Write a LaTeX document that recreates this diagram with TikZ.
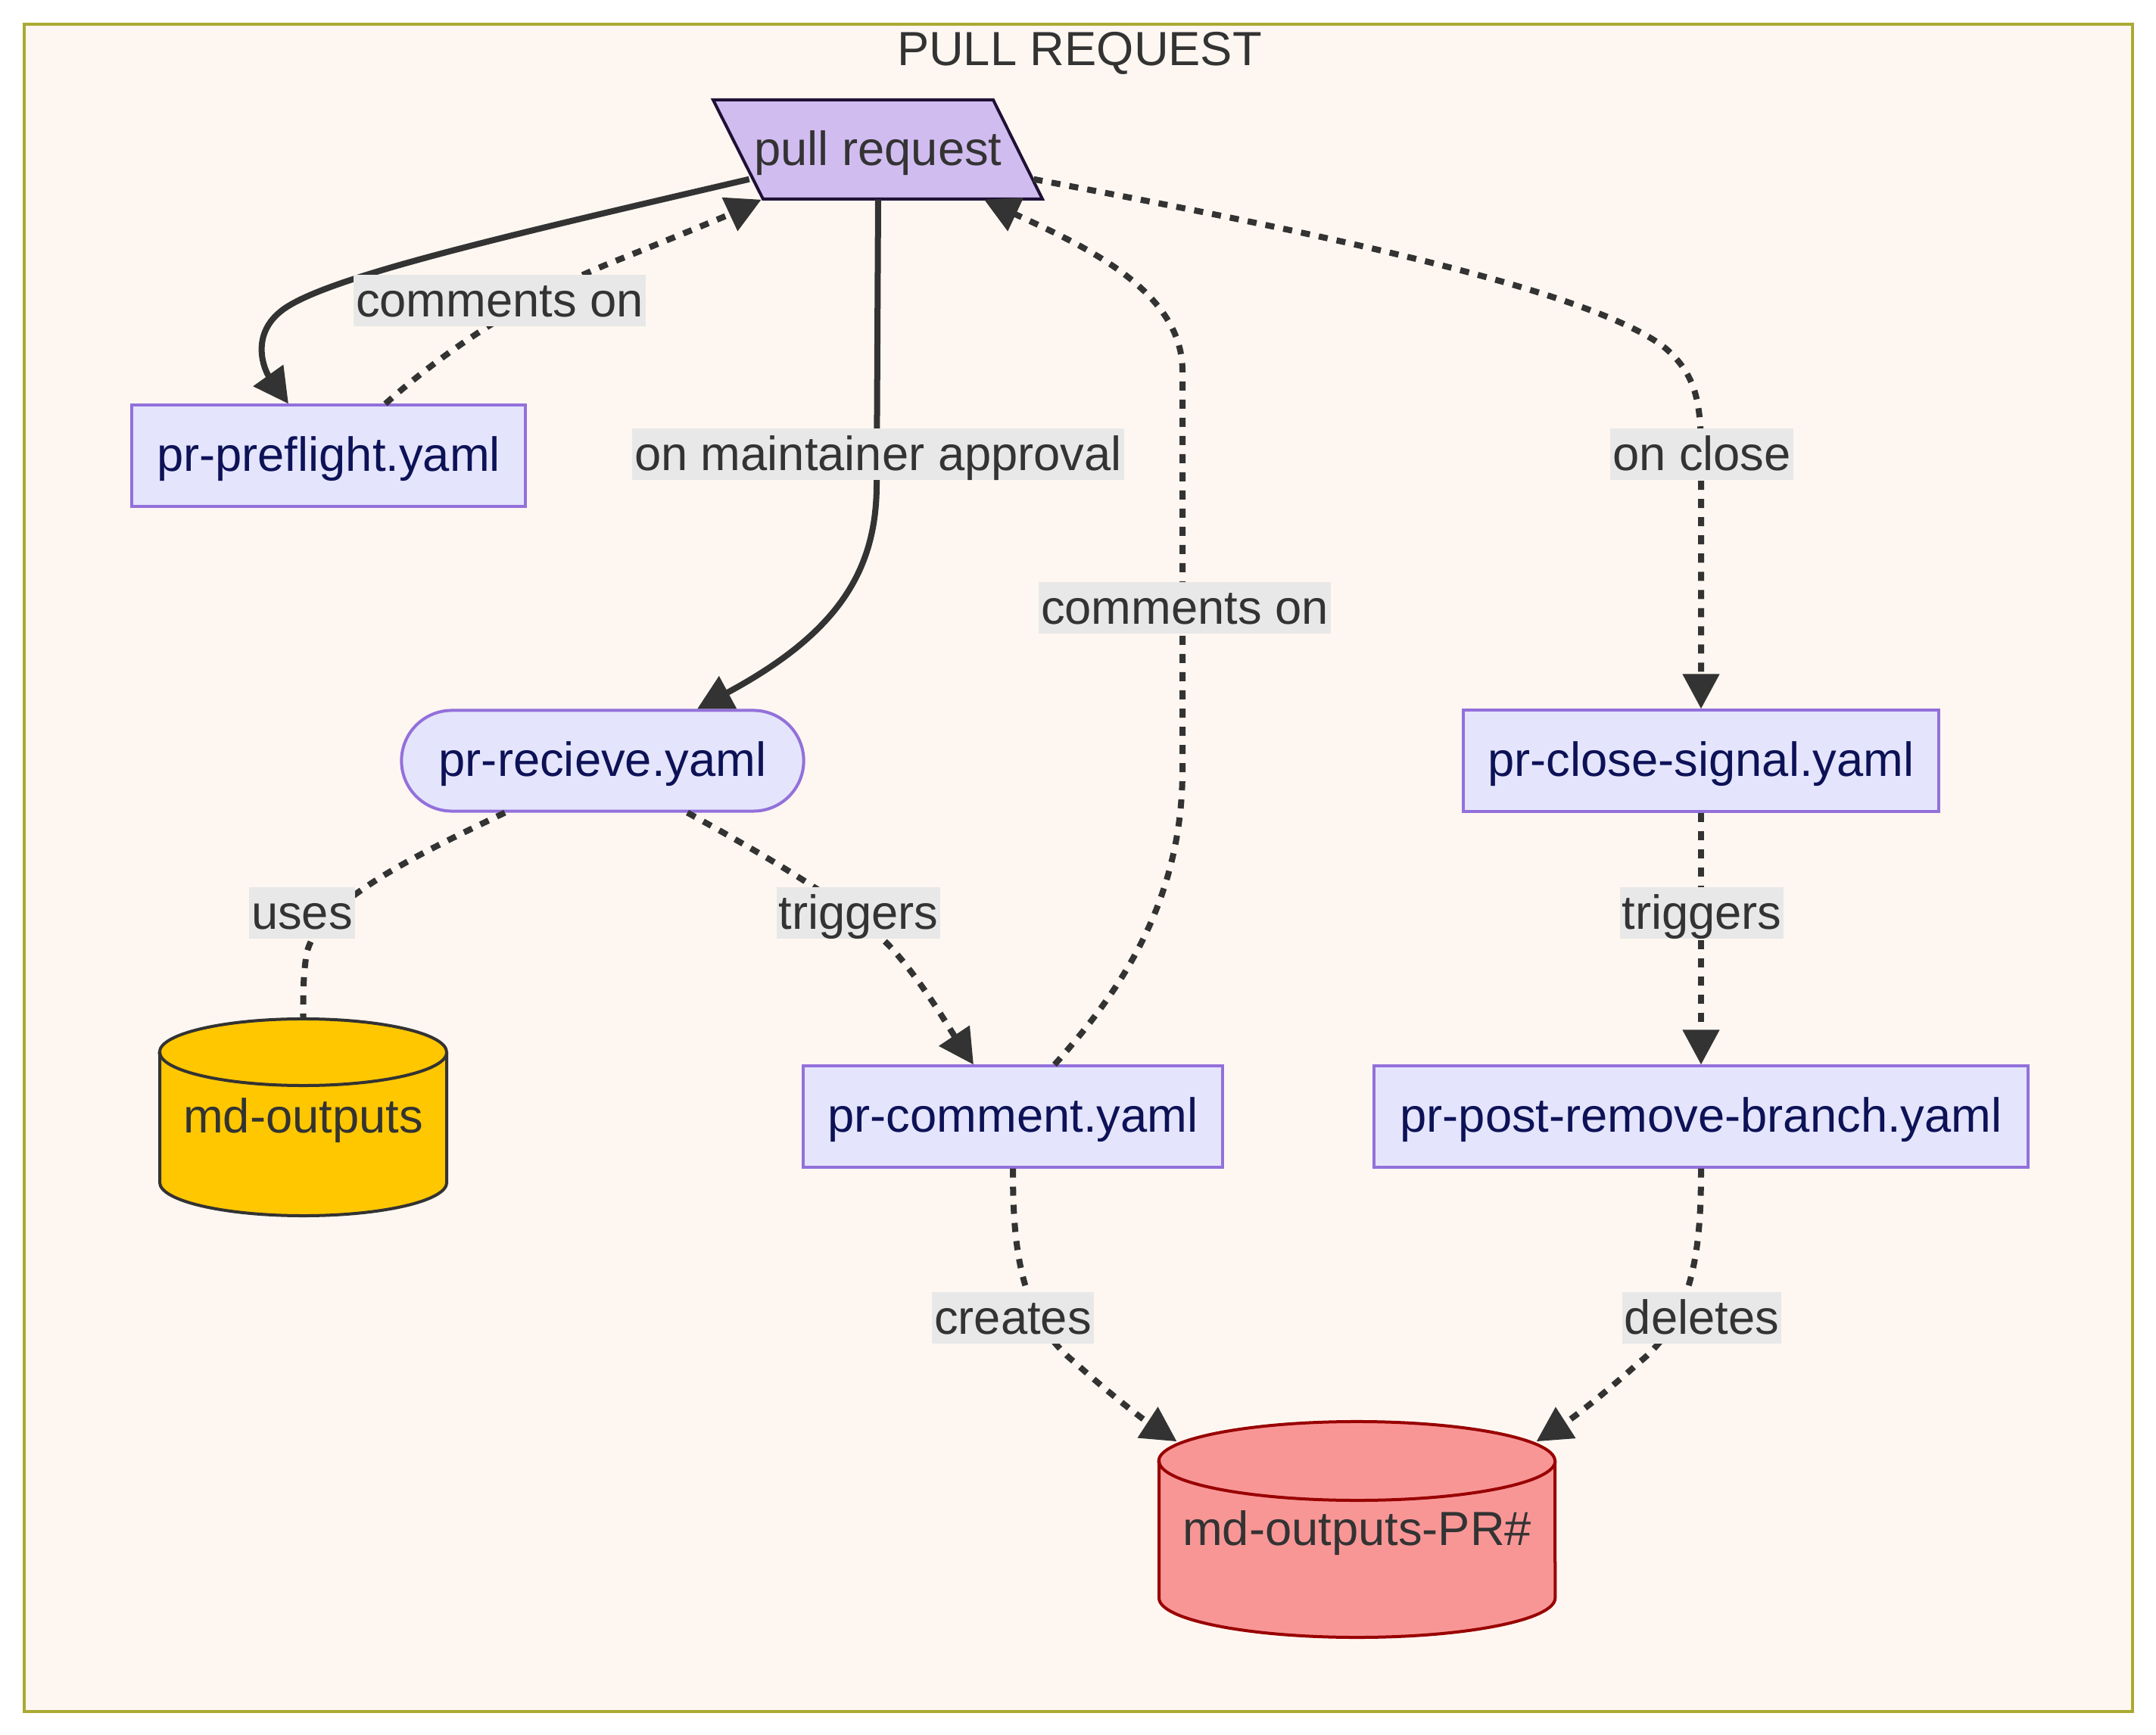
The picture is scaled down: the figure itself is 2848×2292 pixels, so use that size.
\documentclass[tikz,border=0pt]{standalone}
\usepackage{fontspec}
\setmainfont{Liberation Sans}
\usetikzlibrary{arrows.meta,calc}
\definecolor{clfill}{HTML}{FEF7F1}
\definecolor{clstroke}{HTML}{AAAA33}
\definecolor{nfill}{HTML}{E4E5FC}
\definecolor{nstroke}{HTML}{9370DB}
\definecolor{ntext}{HTML}{0D1257}
\definecolor{edgec}{HTML}{333333}
\definecolor{lblbg}{HTML}{E8E8E8}
\definecolor{prfill}{HTML}{D1BCF0}
\definecolor{prstroke}{HTML}{1F1135}
\definecolor{mofill}{HTML}{FFC700}
\definecolor{mpfill}{HTML}{F89696}
\definecolor{mpstroke}{HTML}{990000}
\tikzset{
  box/.style={draw=nstroke, fill=nfill, line width=0.04cm, text=ntext, minimum height=1.33cm, inner sep=0pt, text height=15pt, text depth=3.3pt},
  textonly/.style={inner sep=0pt, text=edgec, text height=15pt, text depth=3.3pt},
  lbl/.style={fill=lblbg, text=edgec, inner xsep=0.8pt, inner ysep=0pt, minimum height=0.68cm, text height=16pt, text depth=3.6pt},
  solidedge/.style={draw=edgec, line width=0.08cm, -{Triangle[length=0.46cm,width=0.47cm]}},
  dotedge/.style={solidedge, dash pattern=on 0.12cm off 0.12cm},
  dotline/.style={draw=edgec, line width=0.08cm, dash pattern=on 0.12cm off 0.12cm}
}
\begin{document}
\begin{tikzpicture}[x=0.01cm, y=-0.01cm, font=\fontsize{18}{21.6}\selectfont]
\useasboundingbox (0,0) rectangle (2848,2292);
% cluster
\filldraw[fill=clfill, draw=clstroke, line width=0.04cm] (32,32) rectangle (2817,2261);
\node[text=edgec] (title) at (1426,70) {PULL REQUEST};
% parallelogram
\filldraw[fill=prfill, draw=prstroke, line width=0.04cm] (942,132) -- (1312,132) -- (1377,263) -- (1008,263) -- cycle;
% cylinders
\filldraw[fill=mofill, draw=edgec, line width=0.04cm] (211,1390) -- (211,1562)
  arc[start angle=180, end angle=360, x radius=1.895cm, y radius=0.44cm] -- (590,1390)
  arc[start angle=0, end angle=180, x radius=1.895cm, y radius=0.44cm] -- cycle;
\draw[edgec, line width=0.04cm] (211,1390) arc[start angle=180, end angle=360, x radius=1.895cm, y radius=0.44cm];
\filldraw[fill=mpfill, draw=mpstroke, line width=0.04cm] (1531,1930) -- (1531,2111)
  arc[start angle=180, end angle=360, x radius=2.615cm, y radius=0.52cm] -- (2054,1930)
  arc[start angle=0, end angle=180, x radius=2.615cm, y radius=0.52cm] -- cycle;
\draw[mpstroke, line width=0.04cm] (1531,1930) arc[start angle=180, end angle=360, x radius=2.615cm, y radius=0.52cm];
% nodes
\node[textonly, minimum width=4.35cm, minimum height=1.31cm] (pr) at (1160,197.5) {pull request};
\node[box, minimum width=5.20cm] (pf) at (434,602) {pr-preflight.yaml};
\node[box, minimum width=5.31cm, rounded corners=0.665cm] (rc) at (796,1005) {pr-recieve.yaml};
\node[box, minimum width=6.28cm] (cs) at (2247,1005) {pr-close-signal.yaml};
\node[box, minimum width=5.54cm] (pc) at (1338,1475) {pr-comment.yaml};
\node[box, minimum width=8.63cm] (pp) at (2247,1475) {pr-post-remove-branch.yaml};
\node[textonly, minimum width=3.79cm, minimum height=2.60cm] (mo) at (400.5,1476) {md-outputs};
\node[textonly, minimum width=5.23cm, minimum height=2.85cm] (mp) at (1792.5,2020.5) {md-outputs-PR\#};
% edges
\draw[solidedge] ($(pr.south west)+(48,-27)$) .. controls (640,318) and (420,370) .. (370,412)
  .. controls (330,445) and (350,490) .. ($(pf.north)+(-53,0)$);
\draw[dotedge] ($(pf.north)+(75,0)$) .. controls (580,470) and (680,400) .. (800,350)
  .. controls (900,310) and (960,285) .. ($(pr.south west)+(64,0)$);
\draw[solidedge] (pr.south) -- (1158,640) .. controls (1158,760) and (1100,840) .. ($(rc.north)+(125,0)$);
\draw[dotedge] ($(pc.north)+(55,0)$) .. controls (1470,1320) and (1562,1200) .. (1562,1017) -- (1562,490)
  .. controls (1562,380) and (1420,320) .. ($(pr.south)+(140,0)$);
\draw[dotedge] ($(pr.south east)+(-13,-27)$) .. controls (1700,300) and (2100,380) .. (2200,460)
  .. controls (2240,495) and (2247,530) .. (2247,600) -- (cs.north);
\draw[dotline] ($(rc.south)+(-129,0)$) .. controls (560,1125) and (420,1190) .. (405,1260)
  .. controls (400,1290) and (400.5,1320) .. (mo.north);
\draw[dotedge] ($(rc.south)+(112,0)$) .. controls (1020,1135) and (1130,1200) .. (1180,1255)
  .. controls (1220,1300) and (1255,1360) .. ($(pc.north)+(-52,0)$);
\draw[dotedge] (cs.south) -- (pp.north);
\draw[dotedge] (pc.south) .. controls (1338,1640) and (1345,1740) .. (1420,1800)
  .. controls (1470,1845) and (1510,1875) .. ($(mp.north)+(-238,27)$);
\draw[dotedge] (pp.south) .. controls (2247,1640) and (2240,1740) .. (2165,1800)
  .. controls (2115,1845) and (2075,1875) .. ($(mp.north)+(237,27)$);
% labels
\node[lbl] (l1) at (660,397) {comments on};
\node[lbl] (l2) at (1160,600) {on maintainer approval};
\node[lbl] (l3) at (1565,803) {comments on};
\node[lbl] (l4) at (2248,600) {on close};
\node[lbl] (l5) at (399,1206) {uses};
\node[lbl] (l6) at (1134,1206) {triggers};
\node[lbl] (l7) at (2248,1206) {triggers};
\node[lbl] (l8) at (1338,1741) {creates};
\node[lbl] (l9) at (2248,1741) {deletes};
\end{tikzpicture}
\end{document}
